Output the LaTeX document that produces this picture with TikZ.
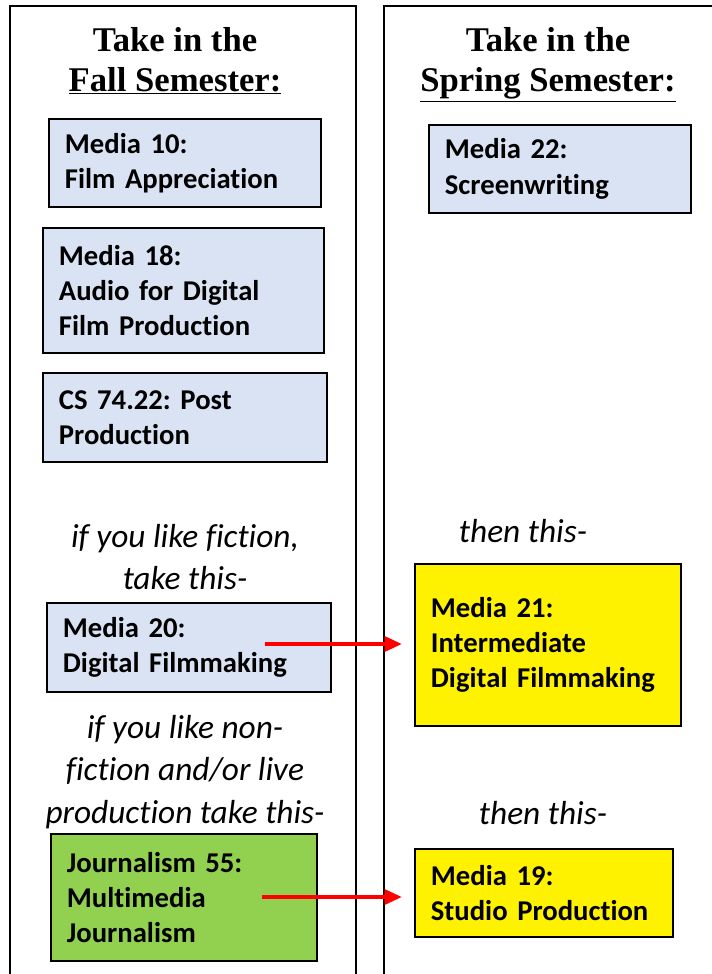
\documentclass[tikz,border=0pt]{standalone}
\usepackage{fontspec}
\setmainfont{Liberation Serif}
\newfontfamily\calibri[Ligatures=NoCommon]{Carlito}
\usepackage{tikz}
\usetikzlibrary{arrows.meta}
\definecolor{paleblue}{HTML}{DAE3F3}
\definecolor{leafgreen}{HTML}{92D050}
\frenchspacing

\begin{document}
\begin{tikzpicture}[x=0.75pt,y=-0.75pt,
  course/.style={draw,line width=1.4pt,anchor=north west,align=left,inner xsep=12pt,font=\calibri\bfseries\fontsize{21.5}{26.5}\selectfont},
  hint/.style={align=center,font=\calibri\itshape\fontsize{25}{32}\selectfont},
  title/.style={anchor=north,inner sep=0pt,align=center,font=\bfseries\fontsize{26}{30}\selectfont},
  nextone/.style={-{Triangle[length=13pt,width=11pt]},red,line width=3pt,shorten >=9pt}]
\useasboundingbox (0,0) rectangle (711,974);

% the two semester columns
\draw [line width=2pt] (10,990) -- (10,6) -- (356,6) -- (356,990);
\draw [line width=2pt] (384,990) -- (384,6) -- (730,6) -- (730,990);

\node (fallhead) at (175,27) [title] {Take in the\\\underline{Fall Semester:}};
\node (springhead) at (548,27) [title] {Take in the\\\underline{Spring Semester:}};

% fall courses
\node (m10) at (48,118) [course,fill=paleblue,text width=180pt,minimum height=66pt] {Media 10:\\Film Appreciation};
\node (m18) at (42,227) [course,fill=paleblue,text width=186.75pt,minimum height=93.75pt] {Media 18:\\Audio for Digital\\Film Production};
\node (cs) at (42,372) [course,fill=paleblue,text width=189pt,minimum height=66.75pt] {CS 74.22: Post\\Production};
\node (fiction) at (185,557) [hint] {if you like fiction,\\take this-};
\node (m20) at (46,602) [course,fill=paleblue,text width=189pt,minimum height=66.75pt] {Media 20:\\Digital Filmmaking};
\node (nonfiction) at (185,772) [hint] {if you like non-\\fiction and/or live\\production take this-};
\node (j55) at (50,833) [course,fill=leafgreen,text width=175.5pt,minimum height=95.25pt] {Journalism 55:\\Multimedia\\Journalism};

% spring courses
\node (m22) at (428,124) [course,fill=paleblue,text width=172.5pt,minimum height=66pt] {Media 22:\\Screenwriting};
\node (then1) at (523,531) [hint] {then this-};
\node (m21) at (414,563) [course,fill=yellow,text width=175.5pt,minimum height=121.5pt] {Media 21:\\Intermediate\\Digital Filmmaking};
\node (then2) at (543,813) [hint] {then this-};
\node (m19) at (414,848) [course,fill=yellow,text width=169.5pt,minimum height=66pt] {Media 19:\\Studio Production};

\coordinate (a1) at (265,644);
\coordinate (a2) at (262,897);
\draw [nextone] (a1) -- (a1 -| m21.west);
\draw [nextone] (a2) -- (a2 -| m19.west);

\end{tikzpicture}
\end{document}
